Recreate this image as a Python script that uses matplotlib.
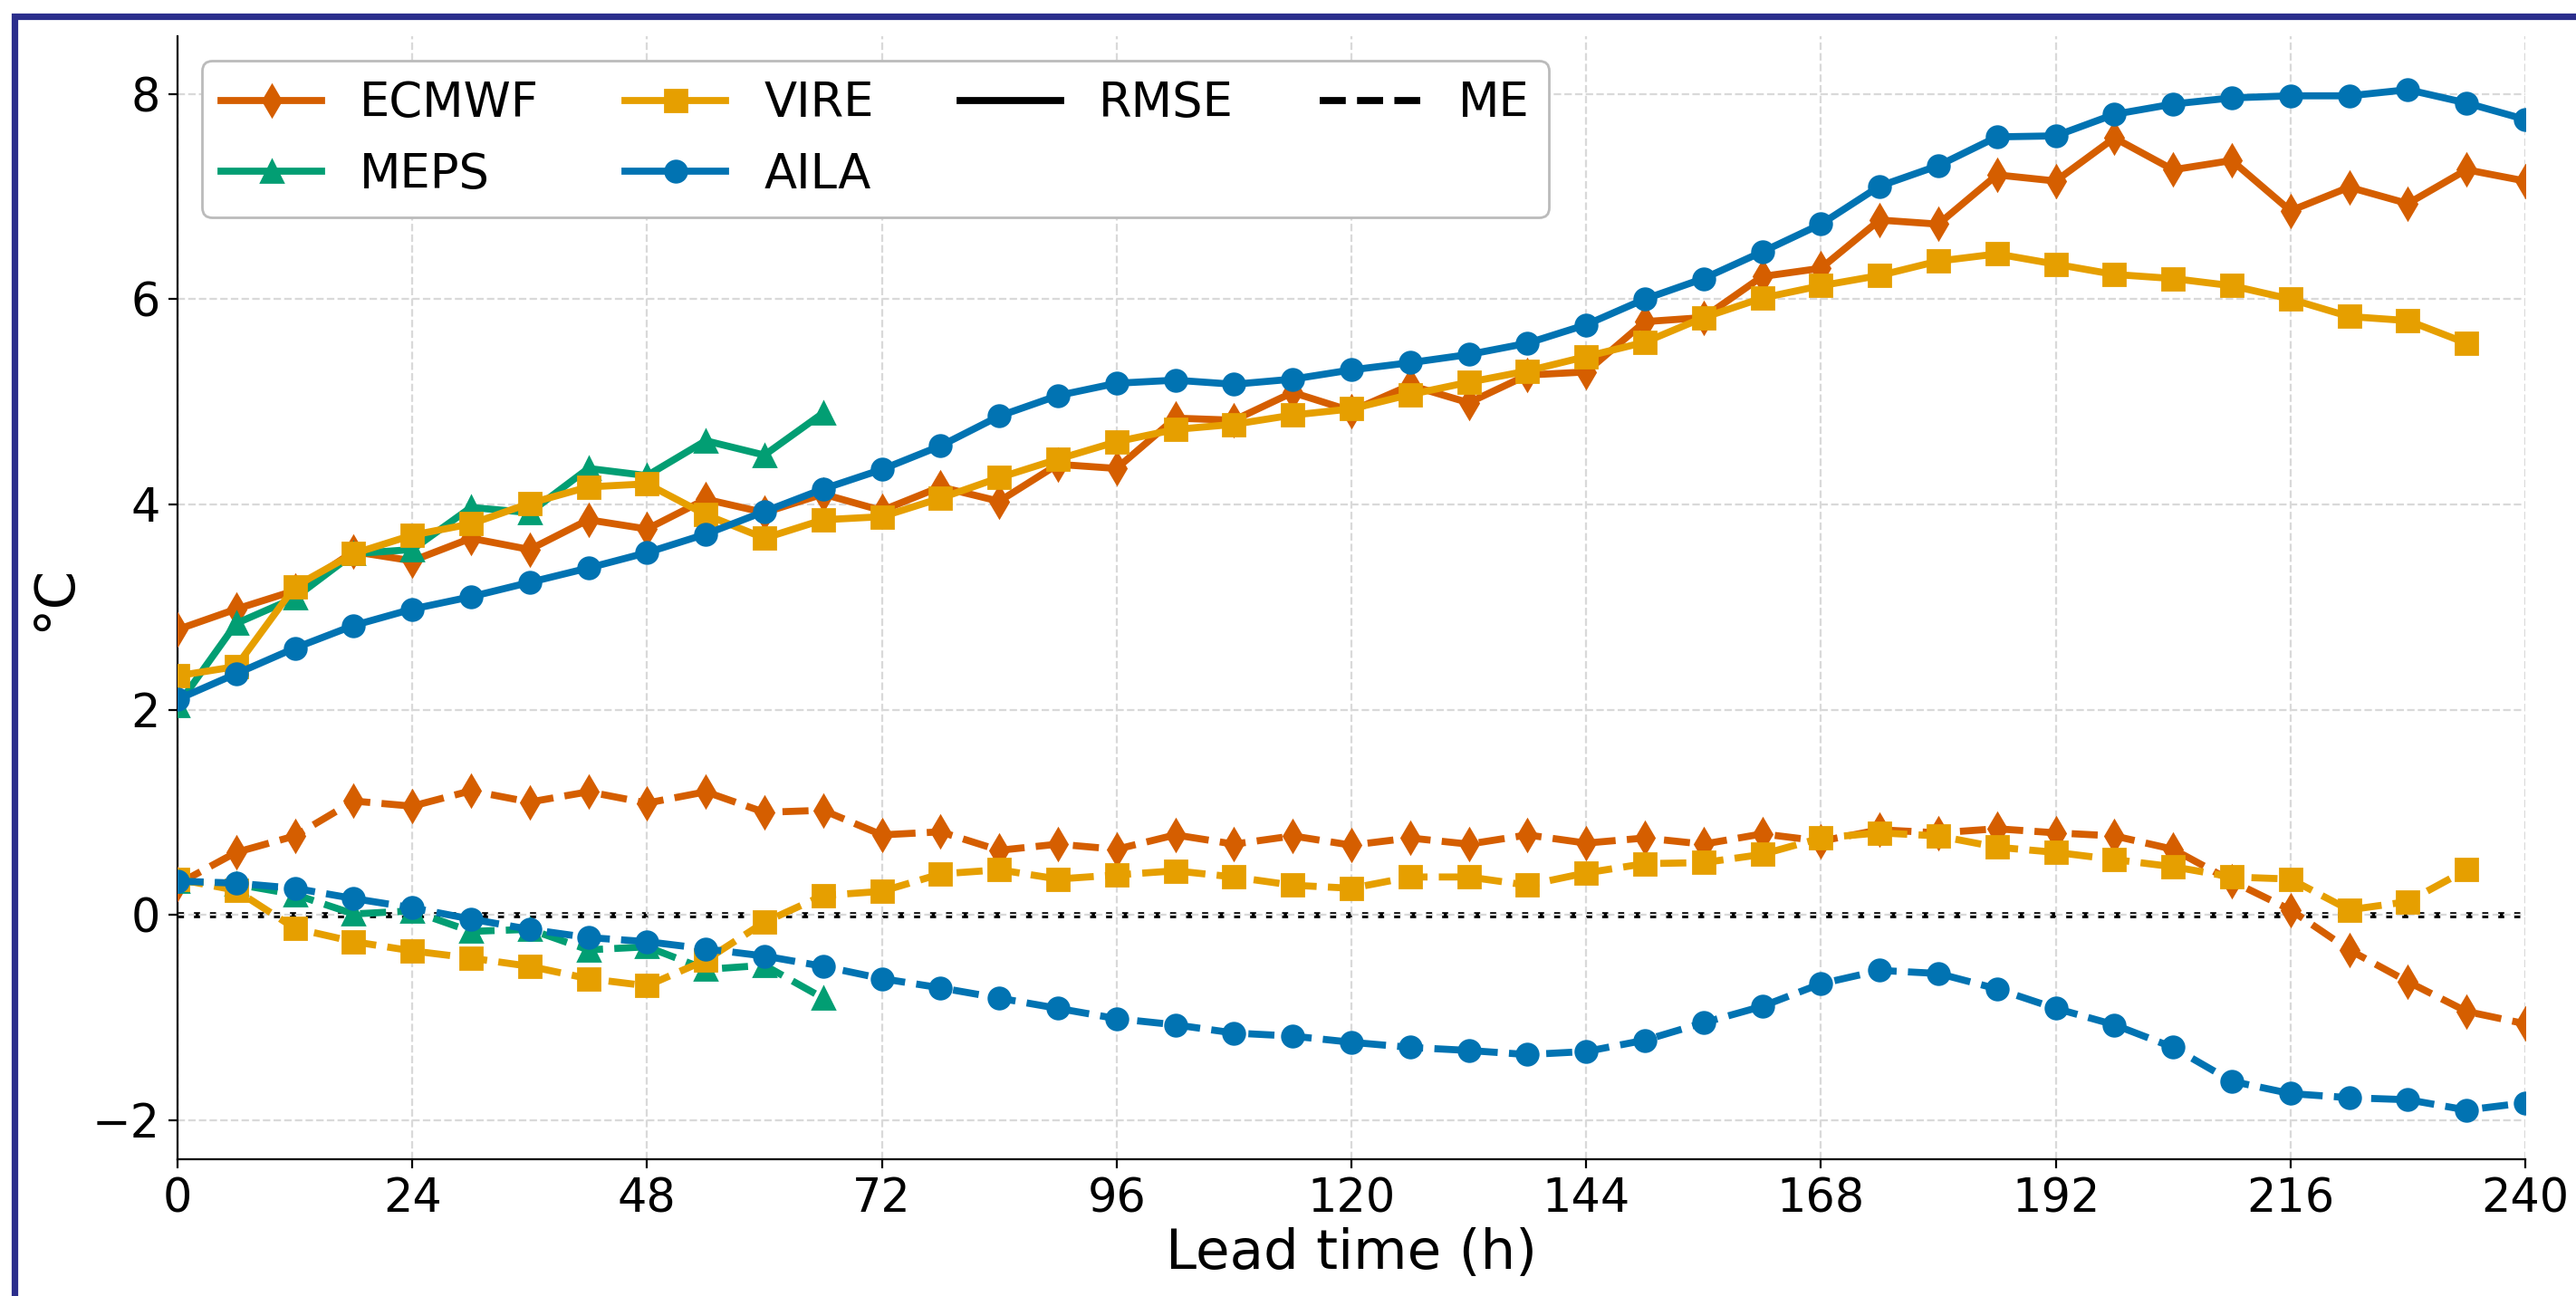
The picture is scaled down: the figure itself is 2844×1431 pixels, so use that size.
import matplotlib
matplotlib.use("Agg")
import matplotlib.pyplot as plt
from matplotlib.lines import Line2D
from matplotlib.patches import Rectangle

lead_times = list(range(0, 241, 6))

ecmwf_rmse = [2.78, 2.98, 3.16, 3.54, 3.45, 3.67, 3.56, 3.85, 3.76, 4.05, 3.92, 4.10, 3.94,
              4.17, 4.03, 4.39, 4.35, 4.84, 4.82, 5.09, 4.91, 5.16, 4.99, 5.26, 5.29, 5.78, 5.82,
              6.22, 6.30, 6.77, 6.73, 7.21, 7.15, 7.57, 7.26, 7.35, 6.86, 7.09, 6.93, 7.26, 7.15]
meps_rmse = [2.04, 2.84, 3.09, 3.52, 3.56, 3.97, 3.92, 4.35, 4.28, 4.62, 4.48, 4.89]
vire_rmse = [2.33, 2.42, 3.20, 3.52, 3.70, 3.81, 4.01, 4.17, 4.20, 3.90, 3.67, 3.85, 3.88,
             4.06, 4.26, 4.44, 4.61, 4.73, 4.78, 4.87, 4.93, 5.07, 5.19, 5.30, 5.44, 5.58, 5.82,
             6.01, 6.13, 6.23, 6.37, 6.44, 6.34, 6.24, 6.20, 6.13, 6.00, 5.83, 5.79, 5.57]
aila_rmse = [2.10, 2.35, 2.60, 2.82, 2.98, 3.10, 3.24, 3.38, 3.53, 3.71, 3.93, 4.15, 4.34,
             4.57, 4.86, 5.06, 5.18, 5.21, 5.17, 5.22, 5.31, 5.38, 5.46, 5.57, 5.75, 6.00, 6.20,
             6.46, 6.73, 7.10, 7.30, 7.58, 7.59, 7.80, 7.90, 7.96, 7.98, 7.98, 8.04, 7.91, 7.75]

ecmwf_me = [0.30, 0.61, 0.77, 1.11, 1.06, 1.21, 1.10, 1.20, 1.09, 1.20, 1.00, 1.02, 0.78,
            0.81, 0.63, 0.69, 0.64, 0.78, 0.69, 0.77, 0.68, 0.75, 0.69, 0.78, 0.70, 0.75, 0.69,
            0.79, 0.72, 0.83, 0.80, 0.84, 0.80, 0.77, 0.64, 0.33, 0.05, -0.34, -0.65, -0.94, -1.06]
meps_me = [0.33, 0.30, 0.20, 0.01, 0.04, -0.16, -0.14, -0.34, -0.31, -0.53, -0.49, -0.81]
vire_me = [0.35, 0.24, -0.13, -0.26, -0.35, -0.42, -0.50, -0.62, -0.69, -0.44, -0.07, 0.19, 0.23,
           0.40, 0.44, 0.35, 0.39, 0.43, 0.37, 0.29, 0.26, 0.37, 0.37, 0.29, 0.41, 0.50, 0.51,
           0.59, 0.75, 0.80, 0.77, 0.66, 0.61, 0.54, 0.47, 0.37, 0.35, 0.05, 0.13, 0.44]
aila_me = [0.33, 0.31, 0.26, 0.16, 0.07, -0.04, -0.14, -0.22, -0.26, -0.33, -0.40, -0.50, -0.62,
           -0.71, -0.81, -0.91, -1.01, -1.07, -1.15, -1.18, -1.24, -1.29, -1.32, -1.36, -1.33, -1.22, -1.05,
           -0.89, -0.67, -0.54, -0.57, -0.72, -0.91, -1.07, -1.29, -1.62, -1.74, -1.78, -1.80, -1.90, -1.83]

models = ["ECMWF", "MEPS", "VIRE", "AILA"]
colors = {"ECMWF": "#D55E00", "MEPS": "#029E73", "VIRE": "#E69F00", "AILA": "#0173B2"}
markers = {"ECMWF": "d", "MEPS": "^", "VIRE": "s", "AILA": "o"}
rmse = {"ECMWF": ecmwf_rmse, "MEPS": meps_rmse, "VIRE": vire_rmse, "AILA": aila_rmse}
me = {"ECMWF": ecmwf_me, "MEPS": meps_me, "VIRE": vire_me, "AILA": aila_me}

LW = 2.8
MS = 8.5

fig = plt.figure(figsize=(14.22, 7.155), dpi=200)
ax = fig.add_axes([0.0689, 0.1055, 0.9114, 0.8665])

ax.axhline(0, color="black", linestyle=":", linewidth=2.4, zorder=1)

for m in models:
    n = len(rmse[m])
    ax.plot(lead_times[:n], rmse[m], color=colors[m], marker=markers[m], markersize=MS,
            linewidth=LW, linestyle="-", zorder=3)
    n = len(me[m])
    ax.plot(lead_times[:n], me[m], color=colors[m], marker=markers[m], markersize=MS,
            linewidth=LW, linestyle="--", zorder=3)

ax.set_xlim(0, 240)
ax.set_ylim(-2.38, 8.56)
ax.set_xticks(range(0, 241, 24))
ax.set_yticks([-2, 0, 2, 4, 6, 8])
ax.set_yticklabels(["\u22122", "0", "2", "4", "6", "8"])
ax.tick_params(labelsize=18.3)
ax.grid(True, linestyle="--", color="#d9d9d9", linewidth=0.8)
ax.spines["top"].set_visible(False)
ax.spines["right"].set_visible(False)
ax.set_xlabel("Lead time (h)", fontsize=22, labelpad=2)
ax.set_ylabel("\u00b0C", fontsize=22)

handles = [Line2D([], [], color=colors[m], marker=markers[m], markersize=MS, linewidth=LW)
           for m in models]
blank = Line2D([], [], linestyle="none")
handles = handles + [Line2D([], [], color="black", linewidth=LW), blank,
                     Line2D([], [], color="black", linewidth=LW, linestyle="--"), blank]
labels = models + ["RMSE", "", "ME", ""]
ax.legend(handles, labels, ncol=4, loc="upper left", bbox_to_anchor=(0.0105, 0.978),
          borderaxespad=0, fontsize=19, handlelength=2.1, columnspacing=1.8,
          framealpha=1, edgecolor="#bbbbbb")

fig.patches.append(Rectangle((0.0058, -0.1), 1.2, 0.9874 + 0.1, transform=fig.transFigure,
                             fill=False, edgecolor="#2B2E8C", linewidth=2.6))

fig.savefig("out.png", dpi=200)
